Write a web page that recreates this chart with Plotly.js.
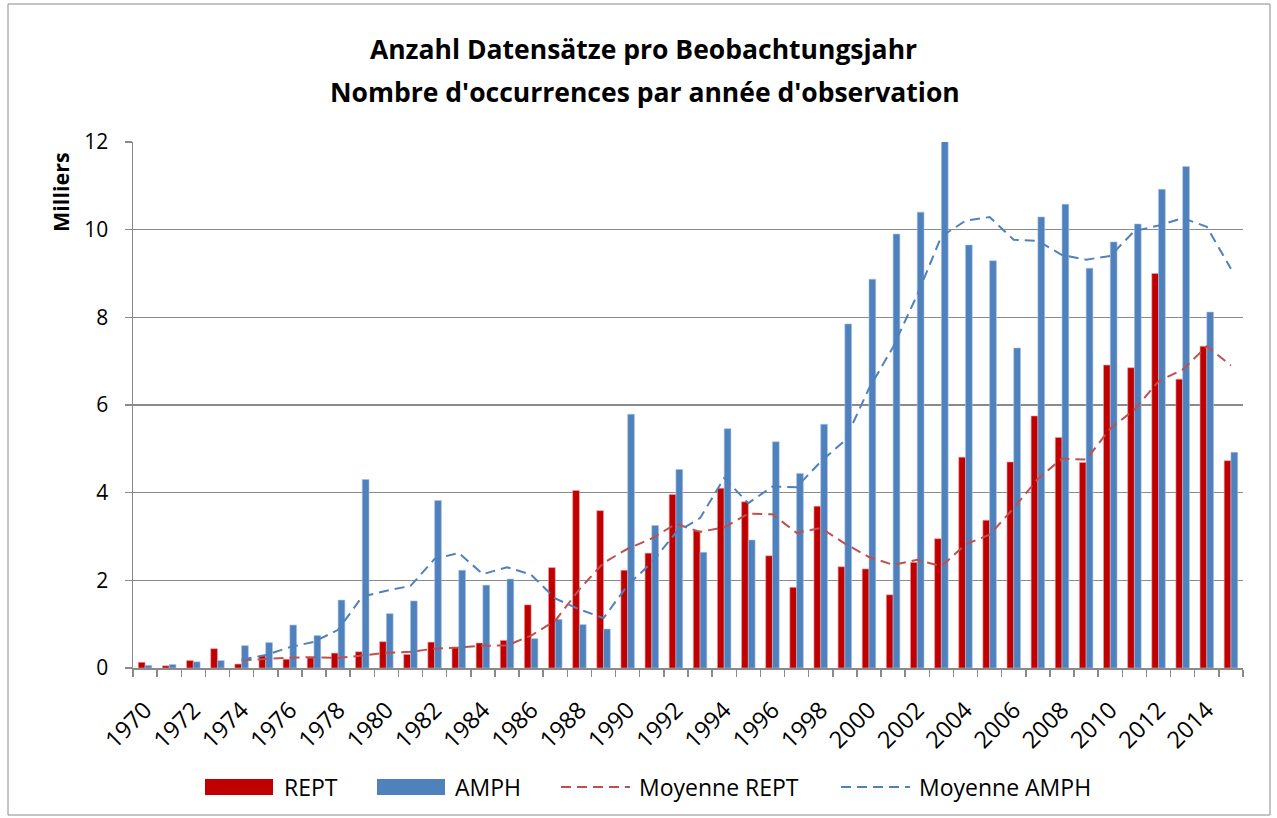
<!DOCTYPE html>
<html>
<head>
<meta charset="utf-8">
<script src="https://cdn.plot.ly/plotly-3.0.1.min.js"></script>
<style>
html,body{margin:0;padding:0;background:#fff;}
#chart{width:1277px;height:818px;}
</style>
</head>
<body>
<div id="chart"></div>
<script>
// ---- data (thousands) ----
const years = ['1970','1971','1972','1973','1974','1975','1976','1977','1978','1979',
  '1980','1981','1982','1983','1984','1985','1986','1987','1988','1989',
  '1990','1991','1992','1993','1994','1995','1996','1997','1998','1999',
  '2000','2001','2002','2003','2004','2005','2006','2007','2008','2009',
  '2010','2011','2012','2013','2014','2015'];

const rept = [0.13,0.05,0.17,0.44,0.09,0.28,0.20,0.23,0.34,0.37,
  0.60,0.31,0.59,0.47,0.57,0.63,1.44,2.29,4.05,3.59,
  2.23,2.62,3.96,3.13,4.10,3.79,2.56,1.84,3.69,2.31,
  2.26,1.67,2.41,2.95,4.81,3.37,4.70,5.75,5.26,4.69,
  6.91,6.85,9.00,6.59,7.34,4.73];

const amph = [0.06,0.08,0.14,0.17,0.51,0.58,0.98,0.74,1.55,4.30,
  1.24,1.53,3.82,2.23,1.89,2.03,0.67,1.11,0.99,0.89,
  5.79,3.25,4.53,2.64,5.46,2.92,5.16,4.44,5.56,7.85,
  8.87,9.90,10.40,12.20,9.65,9.29,7.30,10.29,10.58,9.12,
  9.72,10.13,10.92,11.44,8.12,4.92];

const yTicks = [0,2,4,6,8,10,12];
const xTickText = years.map((y, i) => (i % 2 === 0 ? y : ''));
const maPeriod = 5;

const seriesNames = ['REPT','AMPH','Moyenne REPT','Moyenne AMPH'];
const titleLines = ['Anzahl Datensätze pro Beobachtungsjahr', "Nombre d'occurrences par année d'observation"];
const yUnitLabel = 'Milliers';

// moving-average trendline (Excel style, period 5)
function movingAverage(vals, n) {
  const out = [];
  for (let i = n - 1; i < vals.length; i++) {
    let s = 0;
    for (let j = i - n + 1; j <= i; j++) s += vals[j];
    out.push(s / n);
  }
  return out;
}

// ---- styling / layout ----
const W = 1277, H = 818;
const L = 133, R = 1243, T = 142, B = 668;
const px = x => (x - L) / (R - L);
const py = y => (B - y) / (B - T);
const FONT = '"Open Sans", Lato, sans-serif';
const GRAY = '#8a8a8a';
const RED = '#C00000', BLUE = '#4F81BD', RED_L = '#C0504D';
const xRange = [-0.5, years.length - 0.5];

const traces = [
  {type:'bar', name:seriesNames[0], x:years, y:rept, xaxis:'x', yaxis:'y',
   marker:{color:RED, line:{color:'#e8a0a0', width:0.6}}, showlegend:false, hoverinfo:'skip'},
  {type:'bar', name:seriesNames[1], x:years, y:amph, xaxis:'x', yaxis:'y',
   marker:{color:BLUE, line:{color:'#a9c1e0', width:0.6}}, showlegend:false, hoverinfo:'skip'},
  {type:'scatter', mode:'lines', name:seriesNames[2], x:years.slice(maPeriod-1), y:movingAverage(rept, maPeriod),
   xaxis:'x2', yaxis:'y', line:{color:RED_L, width:2, dash:'10px,6px'}, showlegend:false, hoverinfo:'skip'},
  {type:'scatter', mode:'lines', name:seriesNames[3], x:years.slice(maPeriod-1), y:movingAverage(amph, maPeriod),
   xaxis:'x2', yaxis:'y', line:{color:BLUE, width:2, dash:'10px,6px'}, showlegend:false, hoverinfo:'skip'}
];

// custom legend (Excel-like wide swatches)
const legY = 787;
const shapes = [
  {type:'rect', xref:'paper', yref:'paper', x0:px(8), x1:px(1270), y0:py(815), y1:py(4),
   line:{color:GRAY, width:1}, fillcolor:'rgba(0,0,0,0)', layer:'below'},
  {type:'rect', xref:'paper', yref:'paper', x0:px(205), x1:px(273), y0:py(795), y1:py(779),
   line:{width:0}, fillcolor:RED},
  {type:'rect', xref:'paper', yref:'paper', x0:px(377), x1:px(445), y0:py(795), y1:py(779),
   line:{width:0}, fillcolor:BLUE},
  {type:'line', xref:'paper', yref:'paper', x0:px(561), x1:px(630), y0:py(legY), y1:py(legY),
   line:{color:RED_L, width:2, dash:'10px,6px'}},
  {type:'line', xref:'paper', yref:'paper', x0:px(841), x1:px(910), y0:py(legY), y1:py(legY),
   line:{color:BLUE, width:2, dash:'10px,6px'}}
];
const legFont = {family:FONT, size:23, color:'#000'};
const titleFont = {family:FONT, size:26.5, color:'#000'};
const annotations = [
  {xref:'paper', yref:'paper', x:px(282), y:py(legY), xanchor:'left', yanchor:'middle', text:seriesNames[0], showarrow:false, font:legFont},
  {xref:'paper', yref:'paper', x:px(453), y:py(legY), xanchor:'left', yanchor:'middle', text:seriesNames[1], showarrow:false, font:legFont},
  {xref:'paper', yref:'paper', x:px(637), y:py(legY), xanchor:'left', yanchor:'middle', text:seriesNames[2], showarrow:false, font:legFont},
  {xref:'paper', yref:'paper', x:px(917), y:py(legY), xanchor:'left', yanchor:'middle', text:seriesNames[3], showarrow:false, font:legFont},
  {xref:'paper', yref:'paper', x:px(60), y:py(192), xanchor:'center', yanchor:'middle', textangle:-90,
   text:'<b>' + yUnitLabel + '</b>', showarrow:false, font:{family:FONT, size:21.5, color:'#000'}},
  {xref:'paper', yref:'paper', x:px(645), y:py(92), xanchor:'center', yanchor:'middle',
   text:'<b>' + titleLines[1] + '</b>', showarrow:false, font:titleFont}
];

const layout = {
  width:W, height:H, autosize:false,
  margin:{l:L, r:W-R, t:T, b:H-B, pad:0},
  paper_bgcolor:'#fff', plot_bgcolor:'#fff',
  font:{family:FONT, color:'#000'},
  title:{text:'<b>' + titleLines[0] + '</b>', font:titleFont,
         xref:'container', x:643.5/W, xanchor:'center', yref:'container', y:1-50/H, yanchor:'middle'},
  barmode:'group', bargap:0.44, bargroupgap:0,
  showlegend:false,
  hovermode:false,
  // axis carrying the bars: boundary tick marks, no labels
  xaxis:{type:'category', categoryorder:'array', categoryarray:years, tickmode:'array', tickvals:years,
         tickson:'boundaries', ticks:'outside', ticklen:7, tickcolor:GRAY, tickwidth:1.5,
         showticklabels:false, showline:true, linecolor:GRAY, linewidth:1.5, showgrid:false, zeroline:false,
         range:xRange, fixedrange:true},
  // overlaid axis carrying the trendlines: rotated year labels set below the axis
  xaxis2:{type:'category', overlaying:'x', anchor:'y', side:'bottom', categoryorder:'array', categoryarray:years,
         tickmode:'array', tickvals:years, ticktext:xTickText, tickangle:-45,
         ticks:'outside', ticklen:18, tickcolor:'rgba(0,0,0,0)', showline:false, showgrid:false, zeroline:false,
         tickfont:{family:FONT, size:23.5, color:'#000'}, range:xRange, fixedrange:true},
  yaxis:{range:[0,12], tickmode:'array', tickvals:yTicks, ticks:'outside', ticklen:7, tickcolor:GRAY, tickwidth:1.5,
         showline:true, linecolor:GRAY, linewidth:1.5, showgrid:true, gridcolor:GRAY, gridwidth:1.5,
         zeroline:false, tickfont:{family:FONT, size:21, color:'#000'}, ticklabelstandoff:12, fixedrange:true},
  shapes:shapes, annotations:annotations
};

Plotly.newPlot('chart', traces, layout, {staticPlot:true, displayModeBar:false});
</script>
</body>
</html>
